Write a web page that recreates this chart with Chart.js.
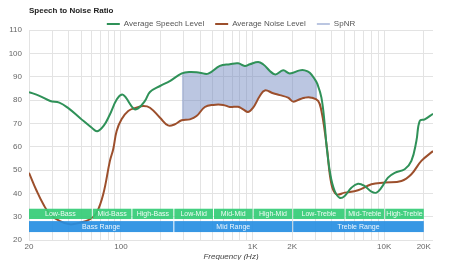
<!DOCTYPE html>
<html><head><meta charset="utf-8">
<script src="https://cdn.jsdelivr.net/npm/chart.js@4/dist/chart.umd.min.js"></script>
<style>html,body{margin:0;padding:0;background:#fff}#wrap{width:450px;height:260px}</style>
</head><body><div id="wrap"><canvas id="c" width="450" height="260"></canvas></div>
<script>
// ---- data ----
const chartTitle = 'Speech to Noise Ratio';
const speechFreq = [20,24,29,34,40,49,60,66,74,82,93,102,109,125,135,152,166,198,235,290,334,397,460,564,672,776,873,953,1102,1202,1476,1707,1918,2285,2493,2722,2970,3100,3336,3533,3640,3900,4209,4592,5011,5636,6325,7113,7998,8730,9525,10690,12020,14320,16100,17570,18620,20330,23500];
const speechLevel = [83.4,81.8,79.6,78.9,76.4,72.2,68.1,66.6,69,73.6,80.3,82.4,81,76.3,76.4,79.6,83.4,86,88.1,91.4,92,91.7,91.3,94.6,95.3,95.7,94.6,95.3,96.3,95.3,91,92.7,91.4,92.7,92.7,91.7,88.9,87,81,69.6,61,48,41,38.1,38.9,42.4,44.1,43.1,40.7,40.3,42.4,46.7,48.8,50.3,53.9,62.4,71,71.7,74.1];
const noiseFreq = [20,22.9,25.7,28.9,34.4,40.9,48.8,58.1,65.3,73.3,82.4,87.3,92.7,101,113.5,131,148,166,198,228,257,289,334,375,434,502,598,672,776,848,925,1010,1135,1239,1433,1610,1862,2033,2285,2493,2802,3149,3336,3533,3682,3976,4337,5011,6325,7998,10090,13520,16100,19170,23500];
const noiseLevel = [48.8,41,35.3,31,28.1,26.7,27.4,28.9,31.7,39.6,53.9,58.9,66.7,71.7,75.3,76.7,77.4,76.7,72.4,69.1,69.6,71.3,71.7,73.1,77,77.9,77.9,77,77.1,76,74.9,76.7,81.7,84.1,82.9,82.1,81,79.3,80.3,81,81,79.6,75.3,66.7,58.9,43.9,39.6,40.3,41.3,43.9,44.6,45.3,48.2,53.9,58.1];
const spnrRange = [290, 3100];
const gridFreqs = [20,30,40,50,60,70,80,90,100,200,300,400,500,600,700,800,900,1000,2000,3000,4000,5000,6000,7000,8000,9000,10000,20000];
const tickLabelFreqs = [20,100,1000,2000,10000,20000];
const tickLabelText = ['20','100','1K','2K','10K','20K'];
const bandLabels = ['Low-Bass','Mid-Bass','High-Bass','Low-Mid','Mid-Mid','High-Mid','Low-Treble','Mid-Treble','High-Treble'];
const bandStart = [20,60,120,250,500,1000,2000,5000,10000];
const bandEnd   = [60,120,250,500,1000,2000,5000,10000,20000];
const rangeLabels = ['Bass Range','Mid Range','Treble Range'];
const rangeStart = [20,250,2000];
const rangeEnd = [250,2000,20000];

const speechPts = speechFreq.map((f,i)=>({x:f,y:speechLevel[i]}));
const noisePts = noiseFreq.map((f,i)=>({x:f,y:noiseLevel[i]}));
const spnrPts = speechPts.filter(p=>p.x>=spnrRange[0] && p.x<=spnrRange[1]);

const FONT = "'Liberation Sans', Arial, sans-serif";
Chart.defaults.font.family = FONT;
Chart.defaults.color = '#666';
const SPNR_COLOR = 'rgba(105,128,188,0.45)';

const bandsPlugin = {
  id:'bands',
  afterDatasetsDraw(chart){
    const {ctx, scales:{x,y}} = chart;
    ctx.save();
    ctx.globalAlpha = 0.92;
    const drawRow = (labels, s, e, vTop, vBot, color) => {
      const top = y.getPixelForValue(vTop), bot = y.getPixelForValue(vBot);
      labels.forEach((lab,i)=>{
        const l = x.getPixelForValue(s[i]) + (i>0?1:0), r = x.getPixelForValue(e[i]);
        ctx.fillStyle = color;
        ctx.fillRect(l, top, r-l, bot-top);
        ctx.fillStyle = '#fff';
        ctx.font = '7px ' + FONT;
        ctx.textAlign='center'; ctx.textBaseline='middle';
        ctx.fillText(lab, (l+r)/2, (top+bot)/2+0.5);
      });
    };
    drawRow(bandLabels, bandStart, bandEnd, 33.4, 29.0, 'rgb(52,204,118)');
    drawRow(rangeLabels, rangeStart, rangeEnd, 28.1, 23.4, 'rgb(38,142,226)');
    ctx.restore();
  },
  afterDraw(chart){
    const ctx = chart.ctx;
    ctx.save();
    ctx.fillStyle = '#222';
    ctx.font = 'bold 8px ' + FONT;
    ctx.textAlign = 'left'; ctx.textBaseline = 'middle';
    ctx.fillText(chartTitle, chart.chartArea.left, 11);
    ctx.restore();
  }
};

new Chart(document.getElementById('c'), {
  type:'line',
  data:{datasets:[
    {label:'Average Speech Level', data:speechPts, borderColor:'#2f9158', backgroundColor:'#2f9158', borderWidth:2, pointRadius:0, tension:0.4, fill:false},
    {label:'Average Noise Level', data:noisePts, borderColor:'#9c4f2c', backgroundColor:'#9c4f2c', borderWidth:2, pointRadius:0, tension:0.4, fill:false},
    {label:'SpNR', data:spnrPts, borderWidth:0, borderColor:'rgba(0,0,0,0)', backgroundColor:SPNR_COLOR, pointRadius:0, tension:0.4, fill:1}
  ]},
  options:{
    responsive:false, animation:false,
    layout:{padding:{left:0,right:17,top:9,bottom:0}},
    plugins:{
      title:{display:false},
      legend:{fullSize:false, maxHeight:21, labels:{boxWidth:13, boxHeight:2, padding:11, font:{size:8}, color:'#555',
        generateLabels(chart){
          const items = Chart.defaults.plugins.legend.labels.generateLabels(chart);
          items.forEach(it=>{ it.lineWidth=0; it.strokeStyle='rgba(0,0,0,0)'; if(it.text==='SpNR'){it.fillStyle=SPNR_COLOR;} });
          return items;
        }}},
      tooltip:{enabled:false}
    },
    scales:{
      x:{type:'logarithmic', min:20, max:23500,
        afterBuildTicks(s){ s.ticks = gridFreqs.map(v=>({value:v})); },
        ticks:{autoSkip:false, maxRotation:0, font:{size:8, lineHeight:1}, color:'#666', padding:3,
          callback(v){ const i = tickLabelFreqs.indexOf(v); return i>=0 ? tickLabelText[i] : ''; }},
        grid:{color:'#e3e3e3', drawTicks:false}, border:{display:false},
        title:{display:true, text:'Frequency (Hz)', font:{size:8, style:'italic', lineHeight:0.75}, color:'#444', padding:{top:0,bottom:0}}
      },
      y:{min:20, max:110,
        ticks:{stepSize:10, font:{size:8}, color:'#666', padding:7},
        grid:{color:'#e3e3e3', drawTicks:false}, border:{display:false},
        afterFit(s){ s.width = 29; }
      }
    }
  },
  plugins:[bandsPlugin]
});
</script></body></html>
